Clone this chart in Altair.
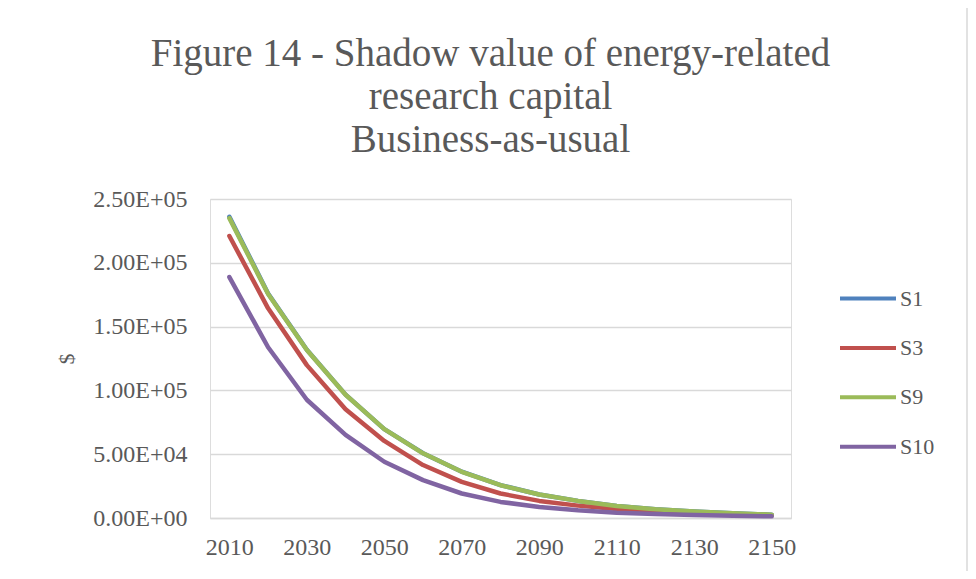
import altair as alt
import pandas as pd

years = [2010, 2020, 2030, 2040, 2050, 2060, 2070, 2080, 2090, 2100, 2110, 2120, 2130, 2140, 2150]
s1 = [236000, 176000, 131800, 96700, 69700, 50800, 36300, 25800, 18400, 13400, 9500, 6800, 5000, 3700, 2600]
s3 = [221000, 164300, 119800, 85300, 60400, 41500, 28300, 19200, 13400, 9700, 7100, 5200, 3900, 2900, 2100]
s9 = [235000, 175500, 131600, 96600, 69600, 50700, 36200, 25700, 18400, 13400, 9400, 6800, 5000, 3700, 2600]
s10 = [188800, 133800, 92700, 65100, 44100, 29700, 19200, 12600, 8700, 6000, 4200, 3100, 2400, 1800, 1300]

series_names = ["S1", "S3", "S9", "S10"]
series_values = [s1, s3, s9, s10]
series_colors = ["#4F81BD", "#C0504D", "#9BBB59", "#8064A2"]

xtick_values = [2010, 2030, 2050, 2070, 2090, 2110, 2130, 2150]
ytick_values = [0, 50000, 100000, 150000, 200000, 250000]
ytick_labels = ["0.00E+00", "5.00E+04", "1.00E+05", "1.50E+05", "2.00E+05", "2.50E+05"]

title_lines = ["Figure 14 - Shadow value of energy-related", "research capital", "Business-as-usual"]

rows = []
for name, vals in zip(series_names, series_values):
    for i, (yr, v) in enumerate(zip(years, vals)):
        rows.append({"year": yr, "value": v, "series": name, "order": i})
df = pd.DataFrame(rows)

FONT = "Liberation Serif"
TXT = "#595959"
GRID = "#d9d9d9"

ylabel_expr = " : ".join(f"datum.value == {v} ? '{l}'" for v, l in zip(ytick_values, ytick_labels)) + " : ''"

W, H = 581, 319

border = alt.Chart(pd.DataFrame({"a": [0]})).mark_rect(
    fill=None, stroke=GRID, strokeWidth=1.5
).encode(
    x=alt.value(-204), x2=alt.value(757), y=alt.value(-195), y2=alt.value(420)
)

lines = alt.Chart(df).mark_line(strokeWidth=4.5, strokeCap="round", strokeJoin="round").encode(
    x=alt.X("year:Q",
            scale=alt.Scale(domain=[2005, 2155], nice=False, zero=False),
            axis=alt.Axis(values=xtick_values, format="d", title=None, ticks=False, grid=False,
                          domain=True, domainColor=GRID, domainWidth=1.3,
                          labelFont=FONT, labelFontSize=24, labelColor=TXT, labelPadding=17,
                          labelFlush=False, labelOverlap=False)),
    y=alt.Y("value:Q",
            scale=alt.Scale(domain=[0, 250000], nice=False),
            axis=alt.Axis(values=ytick_values, labelExpr=ylabel_expr, title="$",
                          ticks=False, domain=False, grid=True, gridColor=GRID, gridWidth=1.3,
                          labelFont=FONT, labelFontSize=24, labelColor=TXT, labelPadding=23,
                          titleFont=FONT, titleFontSize=22, titleColor=TXT, titleFontWeight="normal",
                          titlePadding=14)),
    color=alt.Color("series:N",
                    scale=alt.Scale(domain=series_names, range=series_colors),
                    sort=series_names,
                    legend=alt.Legend(title=None, orient="none", legendX=628, legendY=87,
                                      symbolType="stroke", symbolSize=3136, symbolStrokeWidth=4,
                                      labelFont=FONT, labelFontSize=22, labelColor=TXT,
                                      labelOffset=2, rowPadding=24.4, clipHeight=25)),
    order=alt.Order("order:Q"),
    detail="series:N",
)

chart = alt.layer(border, lines).properties(
    width=W, height=H,
    title=alt.TitleParams(text=title_lines, font=FONT, fontSize=39, fontWeight="normal",
                          color=TXT, lineHeight=43, anchor="middle", dx=-10, offset=-157),
    autosize=alt.AutoSizeParams(type="none"),
    padding={"left": 202, "top": 191, "right": 177, "bottom": 53},
).configure_view(stroke=None).configure(background="white")

chart.save("out.html", embed_options={"renderer": "svg", "actions": False})
